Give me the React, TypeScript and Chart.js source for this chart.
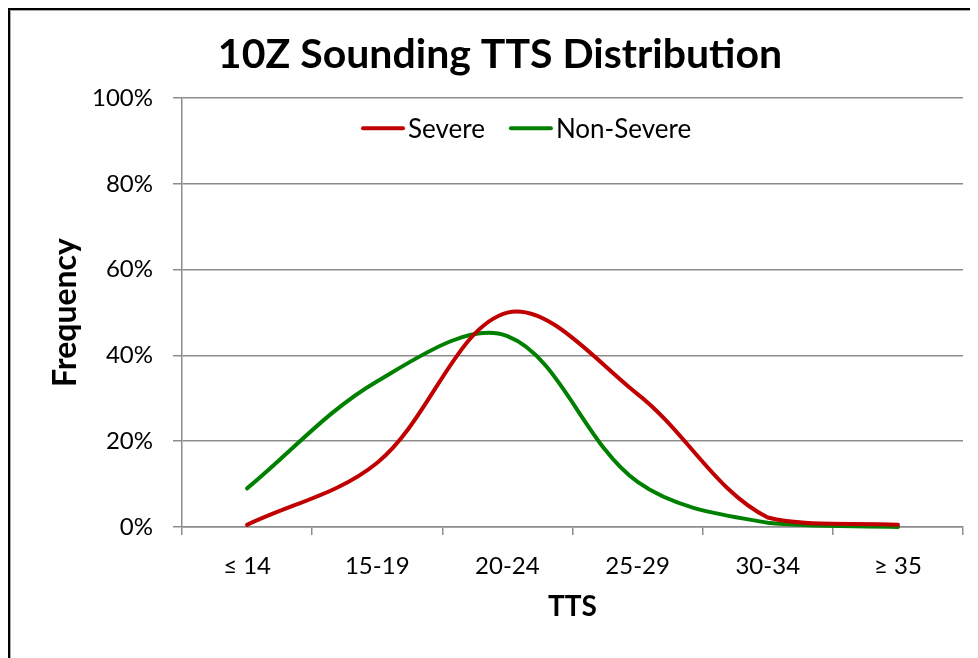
import React, { useEffect, useRef } from "react";
import { Chart, registerables } from "chart.js";

Chart.register(...registerables);

const categories = ["≤ 14", "15-19", "20-24", "25-29", "30-34", "≥ 35"];
const severe = [0.5, 15, 50, 31, 2.2, 0.5];
const nonSevere = [9, 34, 44.5, 10.5, 1, 0];
const yTickValues = [0, 20, 40, 60, 80, 100];
const seriesNames = ["Severe", "Non-Severe"];
const seriesColors = ["#C00000", "#008000"];

const FONT = "Lato";
const GRID = "#8c8c8c";

const legendPlugin = {
  id: "innerLegend",
  afterDatasetsDraw(chart: any) {
    const { ctx, chartArea } = chart;
    ctx.save();
    ctx.font = `26px ${FONT}`;
    ctx.textBaseline = "middle";
    ctx.textAlign = "left";
    let x = chartArea.left + 181;
    const y = chartArea.top + 30;
    chart.data.datasets.forEach((ds: any) => {
      ctx.strokeStyle = ds.borderColor;
      ctx.lineWidth = 4;
      ctx.lineCap = "round";
      ctx.beginPath();
      ctx.moveTo(x, y);
      ctx.lineTo(x + 40, y);
      ctx.stroke();
      ctx.fillStyle = "#000";
      ctx.fillText(ds.label, x + 45, y + 1);
      x += 45 + ctx.measureText(ds.label).width + 26;
    });
    ctx.restore();
  },
};

export default function App() {
  const ref = useRef<HTMLCanvasElement>(null);

  useEffect(() => {
    document.body.style.overflow = "hidden";
    const canvas = ref.current!;
    const chart = new Chart(canvas, {
      type: "line",
      data: {
        labels: categories,
        datasets: [
          {
            label: seriesNames[0],
            data: severe,
            borderColor: seriesColors[0],
            backgroundColor: seriesColors[0],
            borderWidth: 4,
            pointRadius: 0,
            tension: 0.35,
            borderCapStyle: "round",
            fill: false,
            clip: false as any,
          },
          {
            label: seriesNames[1],
            data: nonSevere,
            borderColor: seriesColors[1],
            backgroundColor: seriesColors[1],
            borderWidth: 4,
            pointRadius: 0,
            tension: 0.35,
            borderCapStyle: "round",
            fill: false,
            clip: false as any,
          },
        ],
      },
      options: {
        responsive: false,
        animation: false,
        devicePixelRatio: 1,
        layout: { padding: { left: 26, right: 15, top: 0, bottom: 31 } },
        plugins: {
          legend: { display: false },
          tooltip: { enabled: false },
          title: {
            display: true,
            text: "10Z Sounding TTS Distribution",
            color: "#000",
            font: { family: FONT, size: 41, weight: "bold" },
            padding: { top: 19, bottom: 19 },
          },
        },
        scales: {
          x: {
            type: "category",
            offset: true,
            grid: {
              display: true,
              drawOnChartArea: false,
              drawTicks: true,
              tickLength: 8,
              color: GRID,
              lineWidth: 1.5,
              offset: true,
            },
            border: { display: true, color: GRID, width: 1.5 },
            ticks: {
              color: "#000",
              font: { family: FONT, size: 24 },
              padding: 17,
              maxRotation: 0,
              autoSkip: false,
            },
            title: {
              display: true,
              text: "TTS",
              color: "#000",
              font: { family: FONT, size: 28, weight: "bold" },
              padding: { top: 0, bottom: 3 },
            },
            afterFit(scale: any) {
              scale.height = 100;
            },
          },
          y: {
            min: 0,
            max: 100,
            afterBuildTicks(scale: any) {
              scale.ticks = yTickValues.map((v) => ({ value: v }));
            },
            grid: {
              color: GRID,
              lineWidth: 1.5,
              drawTicks: true,
              tickLength: 9,
            },
            border: { display: true, color: GRID, width: 1.5 },
            ticks: {
              color: "#000",
              font: { family: FONT, size: 24 },
              padding: 20,
              callback: (v: any) => `${v}%`,
            },
            title: {
              display: true,
              text: "Frequency",
              color: "#000",
              font: { family: FONT, size: 32, weight: "bold" },
              padding: { top: 9, bottom: 0 },
            },
            afterFit(scale: any) {
              scale.width = 145;
            },
          },
        },
      },
      plugins: [legendPlugin],
    });
    return () => chart.destroy();
  }, []);

  return (
    <div style={{ borderTop: "2px solid #000", borderLeft: "2px solid #000", width: 970, height: 650 }}>
      <div style={{ borderTop: "1px solid #a6a6a6", borderLeft: "1px solid #a6a6a6", width: 967, height: 647 }}>
        <canvas ref={ref} width={967} height={647} style={{ display: "block", width: 967, height: 647 }} />
      </div>
    </div>
  );
}
